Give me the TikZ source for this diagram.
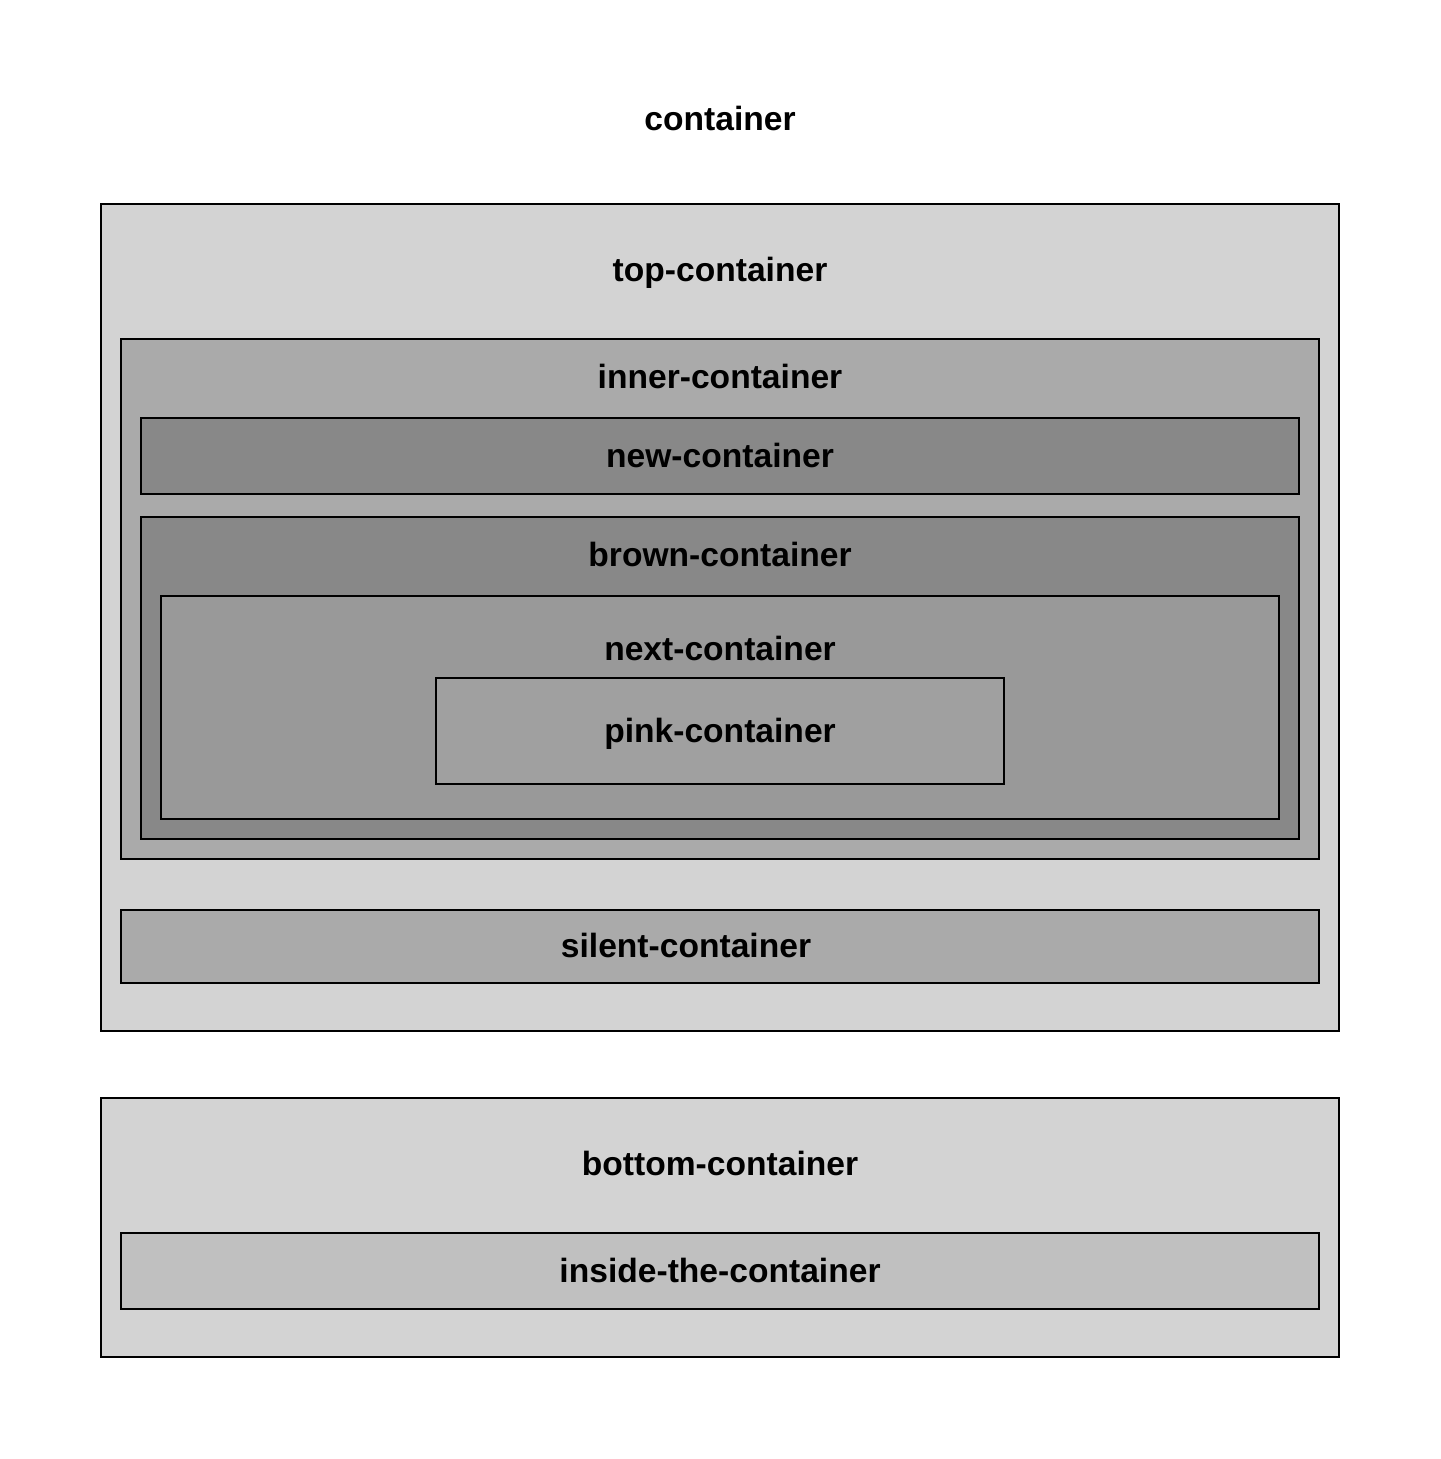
\documentclass[tikz,border=0pt]{standalone}
\usepackage{fontspec}
\setmainfont{Liberation Sans}
\begin{document}
\begin{tikzpicture}[x=0.5pt, y=-0.5pt,
box/.style={draw=black, line width=1pt},
lbl/.style={font=\fontsize{16.8}{20}\selectfont\bfseries, inner sep=0pt,
  text height=1.02em, text depth=0pt, anchor=center}]

\definecolor{topFill}{HTML}{D3D3D3}
\definecolor{innerFill}{HTML}{AAAAAA}
\definecolor{newFill}{HTML}{888888}
\definecolor{brownFill}{HTML}{888888}
\definecolor{nextFill}{HTML}{999999}
\definecolor{pinkFill}{HTML}{A0A0A0}
\definecolor{silentFill}{HTML}{AAAAAA}
\definecolor{bottomFill}{HTML}{D3D3D3}
\definecolor{insideFill}{HTML}{C0C0C0}

\useasboundingbox[fill=white] (0,0) rectangle (1440,1459);

% outer label
\node[lbl] (container) at (720,120) {container};

% top container
\draw[box, fill=topFill] (101,204) rectangle (1339,1031);
\node[lbl] (topLbl) at (720,271) {top-container};

\draw[box, fill=innerFill] (121,339) rectangle (1319,859);
\node[lbl] (innerLbl) at (720,378) {inner-container};

\draw[box, fill=newFill] (141,418) rectangle (1299,494);
\node[lbl] (newLbl) at (720,457) {new-container};

\draw[box, fill=brownFill] (141,517) rectangle (1299,839);
\node[lbl] (brownLbl) at (720,556) {brown-container};

\draw[box, fill=nextFill] (161,596) rectangle (1279,819);
\node[lbl] (nextLbl) at (720,650) {next-container};

\draw[box, fill=pinkFill] (436,678) rectangle (1004,784);
\node[lbl] (pinkLbl) at (720,732) {pink-container};

\draw[box, fill=silentFill] (121,910) rectangle (1319,983);
\node[lbl] (silentLbl) at (686,947) {silent-container};

% bottom container
\draw[box, fill=bottomFill] (101,1098) rectangle (1339,1357);
\node[lbl] (bottomLbl) at (720,1165) {bottom-container};

\draw[box, fill=insideFill] (121,1233) rectangle (1319,1309);
\node[lbl] (insideLbl) at (720,1272) {inside-the-container};

\end{tikzpicture}
\end{document}
